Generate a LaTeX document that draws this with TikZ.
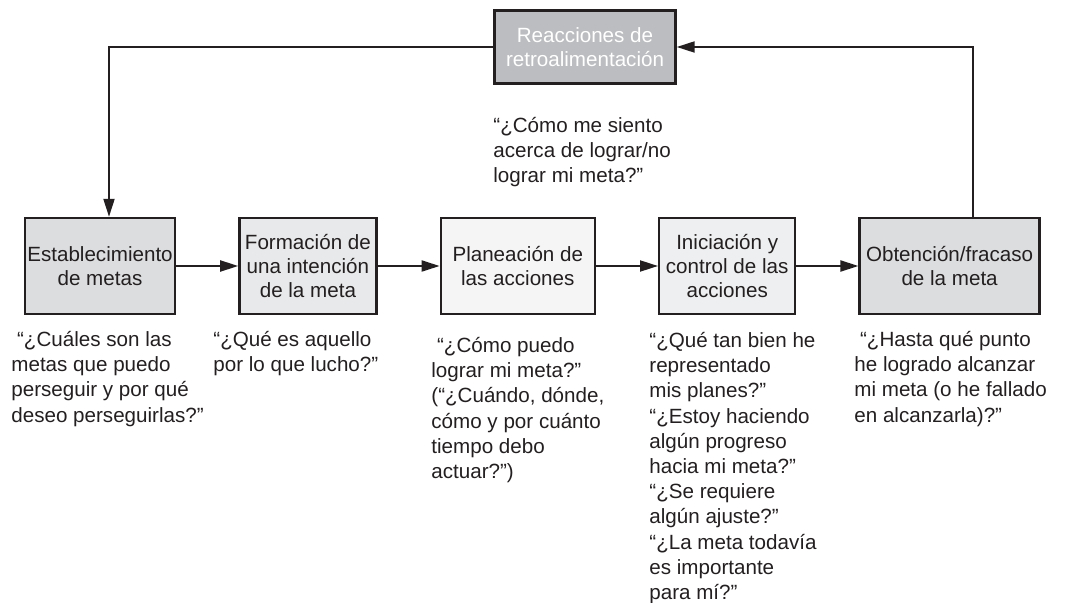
\documentclass[tikz,border=0pt]{standalone}
\usepackage{fontspec}
\setmainfont{Liberation Sans}
\usepackage{tikz}
\usetikzlibrary{arrows.meta,positioning,calc}
\definecolor{ink}{HTML}{231F20}
\definecolor{fillA}{HTML}{DCDDDF}
\definecolor{fillB}{HTML}{E8E9EA}
\definecolor{fillC}{HTML}{F5F5F5}
\definecolor{fillD}{HTML}{EEEFF0}
\definecolor{fillE}{HTML}{BCBDC0}

\begin{document}
\begin{tikzpicture}[
  x=0.5pt, y=-0.5pt,
  node distance=31pt,
  box/.style={draw=ink, line width=1.2pt, rectangle, align=center, text=ink, font=\fontsize{10.3}{12}\selectfont, inner sep=0pt, minimum height=48pt},
  ask/.style={anchor=north west, align=left, inner sep=0pt, text=ink, font=\fontsize{10.3}{12.6}\selectfont},
  arr/.style={-{Triangle[length=9pt,width=5.5pt]}, line width=1pt, draw=ink},
]
\useasboundingbox (0,0) rectangle (1080,603);
% stages
\node[box, fill=fillA, minimum width=75pt] (est) at (100,266) {Establecimiento\\de metas};
\node[box, fill=fillB, minimum width=68.5pt, right=of est] (form) {Formación de\\una intención\\de la meta};
\node[box, fill=fillC, minimum width=77pt, right=of form] (plan) {Planeación de\\las acciones};
\node[box, fill=fillD, minimum width=68pt, right=of plan] (inic) {Iniciación y\\control de las\\acciones};
\node[box, fill=fillA, minimum width=90pt, right=of inic] (obt) {Obtención/fracaso\\de la meta};
\node[box, fill=fillE, text=white, minimum width=90.5pt, minimum height=36.5pt] (retro) at (585,47) {Reacciones de\\retroalimentación};
% questions
\node[ask] (qretro) at (493,117) {“¿Cómo me siento\\acerca de lograr/no\\lograr mi meta?”};
\node[ask] (qest) at (11,331) {\ “¿Cuáles son las\\metas que puedo\\perseguir y por qué\\deseo perseguirlas?”};
\node[ask] (qform) at (213,331) {“¿Qué es aquello\\por lo que lucho?”};
\node[ask] (qplan) at (431,337) {\ “¿Cómo puedo\\lograr mi meta?”\\(“¿Cuándo, dónde,\\cómo y por cuánto\\tiempo debo\\actuar?”)};
\node[ask] (qinic) at (649,332) {“¿Qué tan bien he\\representado\\mis planes?”\\“¿Estoy haciendo\\algún progreso\\hacia mi meta?”\\“¿Se requiere\\algún ajuste?”\\“¿La meta todavía\\es importante\\para mí?”};
\node[ask] (qobt) at (854,331) {\ “¿Hasta qué punto\\he logrado alcanzar\\mi meta (o he fallado\\en alcanzarla)?”};
% connectors
\coordinate (fbR) at (973,47);
\coordinate (fbL) at (109,47);
\draw[arr] (est) -- (form);
\draw[arr] (form) -- (plan);
\draw[arr] (plan) -- (inic);
\draw[arr] (inic) -- (obt);
\draw[arr] (fbR |- obt.north) -- (fbR) -- (retro.east);
\draw[arr] (retro.west) -- (fbL) -- (fbL |- est.north);
\end{tikzpicture}
\end{document}
